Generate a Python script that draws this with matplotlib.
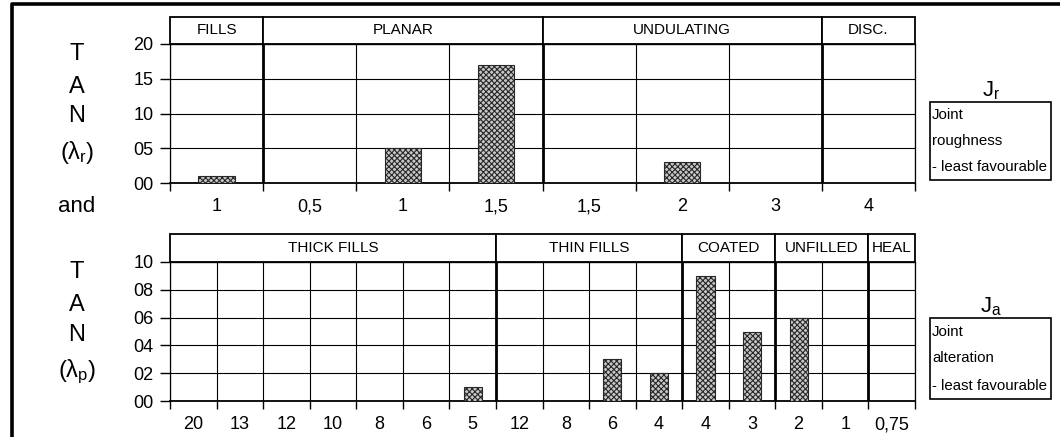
import matplotlib.pyplot as plt
from matplotlib import font_manager
from matplotlib.patches import Rectangle
from matplotlib.lines import Line2D
import matplotlib.transforms as mtransforms

names = {f.name for f in font_manager.fontManager.ttflist}
NARROW = "Liberation Sans Narrow" if "Liberation Sans Narrow" in names else "Liberation Sans"

plt.rcParams['font.family'] = ['Liberation Sans', 'DejaVu Sans']
plt.rcParams['mathtext.fontset'] = 'custom'
plt.rcParams['mathtext.rm'] = NARROW
plt.rcParams['mathtext.it'] = NARROW
plt.rcParams['hatch.linewidth'] = 0.8

# -----------------------
# Data
# -----------------------
jr_labels = ["1", "0,5", "1", "1,5", "1,5", "2", "3", "4"]
jr_counts = [1, 0, 5, 17, 0, 3, 0, 0]
jr_groups = ["FILLS", "PLANAR", "UNDULATING", "DISC."]
jr_group_sizes = [1, 3, 3, 1]
jr_yticks = [0, 5, 10, 15, 20]

ja_labels = ["20", "13", "12", "10", "8", "6", "5", "12", "8", "6", "4",
             "4", "3", "2", "1", "0,75"]
ja_counts = [0, 0, 0, 0, 0, 0, 1, 0, 0, 3, 2, 9, 5, 6, 0, 0]
ja_groups = ["THICK FILLS", "THIN FILLS", "COATED", "UNFILLED", "HEAL"]
ja_group_sizes = [7, 4, 2, 2, 1]
ja_yticks = [0, 2, 4, 6, 8, 10]

W, H = 1060, 437
fig = plt.figure(figsize=(W / 100, H / 100), dpi=100)


def px_axes(left, top, right, bottom):
    return fig.add_axes([left / W, 1 - bottom / H, (right - left) / W, (bottom - top) / H])


def panel(ax, labels, counts, groups, sizes, yticks, head_h):
    n = len(labels)
    xs = [i + 0.5 for i in range(n)]
    ax.bar(xs, counts, width=0.39, color="#c8c8c8", edgecolor="#282828",
           hatch="xxxxxx", linewidth=0.8, zorder=3)
    ax.set_xlim(0, n)
    ax.set_ylim(yticks[0], yticks[-1])

    ax.set_xticks(range(n + 1))
    ax.set_xticklabels([])
    ax.set_xticks(xs, minor=True)
    ax.set_xticklabels(labels, minor=True, fontsize=13)
    ax.tick_params(axis="x", which="major", length=6, width=1, direction="out")
    ax.tick_params(axis="x", which="minor", length=0, pad=11)

    ax.set_yticks(yticks)
    ax.set_yticklabels([f"{v:02d}" for v in yticks], fontsize=13)
    ax.tick_params(axis="y", length=7, width=1, pad=5)

    ax.grid(axis="both", which="major", color="black", linewidth=0.8, zorder=1)
    for s in ["top", "right", "left"]:
        ax.spines[s].set_linewidth(0.9)
    ax.spines["bottom"].set_linewidth(1.3)

    trans = mtransforms.blended_transform_factory(ax.transData, ax.transAxes)
    start = 0
    for name, size in zip(groups, sizes):
        if start > 0:
            ax.axvline(start, color="black", linewidth=2.0, zorder=2)
        ax.add_patch(Rectangle((start, 1), size, head_h, transform=trans,
                               facecolor="white", edgecolor="black",
                               linewidth=1.3, clip_on=False))
        ax.text(start + size / 2, 1 + head_h / 2, name, transform=trans,
                ha="center", va="center", fontsize=11)
        start += size


ax1 = px_axes(170, 44, 915, 183)
panel(ax1, jr_labels, jr_counts, jr_groups, jr_group_sizes, jr_yticks, 27 / 139)

ax2 = px_axes(170, 262, 915, 401)
panel(ax2, ja_labels, ja_counts, ja_groups, ja_group_sizes, ja_yticks, 28 / 139)


# left side labels
def ftext(x, y, s, **kw):
    fig.text(x / W, 1 - y / H, s, ha="center", va="center", **kw)


side_size = 17
for y, s in zip([54, 87, 116, 152], ["T", "A", "N", r"$(\lambda_r)$"]):
    ftext(77, y, s, fontsize=side_size, family=NARROW)
ftext(77, 207, "and", fontsize=side_size - 1, family=NARROW)
for y, s in zip([272, 305, 335, 372], ["T", "A", "N", r"$(\lambda_p)$"]):
    ftext(77, y, s, fontsize=side_size, family=NARROW)

# right side boxes
ftext(991, 91, r"$J_r$", fontsize=16)
ftext(991, 307, r"$J_a$", fontsize=16)
for top, bot, lines in [(102, 180, ["Joint", "roughness", "- least favourable"]),
                        (318, 399, ["Joint", "alteration", "- least favourable"])]:
    fig.patches.append(Rectangle((930 / W, 1 - bot / H), (1051 - 930) / W,
                                 (bot - top) / H, transform=fig.transFigure,
                                 facecolor="white", edgecolor="black", linewidth=1.2))
    step = (bot - top) / 3
    for k, s in enumerate(lines):
        fig.text(932 / W, 1 - (top + step * (k + 0.5)) / H, s, ha="left",
                 va="center", fontsize=10.8)

# outer frame
fig.add_artist(Line2D([11.5 / W, 11.5 / W, 1], [0, 1 - 3.5 / H, 1 - 3.5 / H],
                      transform=fig.transFigure, color="black", linewidth=2.6))

fig.savefig("out.png", dpi=100)
